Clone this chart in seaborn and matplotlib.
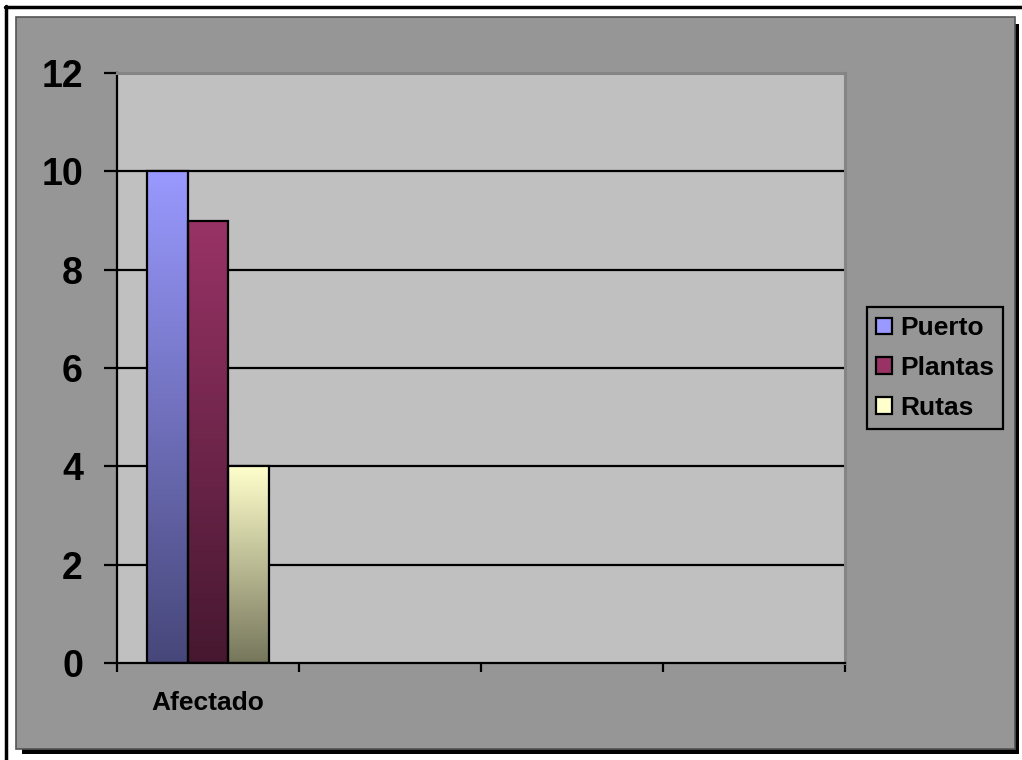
import numpy as np
import pandas as pd
import matplotlib
matplotlib.use("Agg")
import matplotlib.pyplot as plt
import matplotlib.colors as mcolors
from matplotlib.patches import Rectangle, Patch
from matplotlib.lines import Line2D
import seaborn as sns

# ---- data ----
category_slots = ["Afectado", " ", "  ", "   "]
categories = ["Afectado", "Afectado", "Afectado"]
series = ["Puerto", "Plantas", "Rutas"]
values = [10, 9, 4]
top_colors = ["#9999FF", "#993366", "#FFFFCC"]
bottom_colors = ["#47477A", "#461830", "#76765C"]
yticks = [0, 2, 4, 6, 8, 10, 12]

sns.set_theme(style="white")
plt.rcParams["font.family"] = ["Liberation Sans", "DejaVu Sans"]
plt.rcParams["font.weight"] = "bold"
plt.rcParams["text.color"] = "black"
plt.rcParams["xtick.color"] = "black"
plt.rcParams["ytick.color"] = "black"

W, H = 1022, 760
fig = plt.figure(figsize=(W / 100, H / 100), dpi=100)
fig.patch.set_facecolor("white")

def fx(px):
    return px / W

def fy(py):
    return 1 - py / H

# outer frame lines (top and left)
fig.add_artist(Line2D([fx(5), fx(1022)], [fy(6.5), fy(6.5)], color="black", lw=2.5,
                      transform=fig.transFigure, zorder=-3))
fig.add_artist(Line2D([fx(5.5), fx(5.5)], [fy(6), fy(760)], color="black", lw=2.5,
                      transform=fig.transFigure, zorder=-3))

# gray panel with shadow
fig.add_artist(Rectangle((fx(22), fy(754)), fx(1019) - fx(22), fy(24) - fy(754),
                         transform=fig.transFigure, facecolor="black", edgecolor="none", zorder=-2))
fig.add_artist(Rectangle((fx(16), fy(749)), fx(1015) - fx(16), fy(17) - fy(749),
                         transform=fig.transFigure, facecolor="#969696", edgecolor="#555555",
                         lw=1.2, zorder=-1))

ax = fig.add_axes([fx(117), fy(663), fx(845) - fx(117), fy(73) - fy(663)])
ax.set_facecolor("#C0C0C0")

df = pd.DataFrame({"cat": categories, "series": series, "value": values})
sns.barplot(data=df, x="cat", y="value", hue="series", order=category_slots,
            hue_order=series, palette=top_colors, width=0.665, gap=0,
            edgecolor="black", linewidth=1.6, legend=False, ax=ax, zorder=3)

# gradient fills
for i, cont in enumerate(ax.containers):
    c_top = np.array(mcolors.to_rgb(top_colors[i]))
    c_bot = np.array(mcolors.to_rgb(bottom_colors[i]))
    for patch in cont:
        x0 = patch.get_x()
        w = patch.get_width()
        h = patch.get_height()
        t = np.linspace(0, 1, 256)[:, None, None]
        img = c_top[None, None, :] * (1 - t) + c_bot[None, None, :] * t
        im = ax.imshow(img, extent=[x0, x0 + w, 0, h], origin="upper",
                       aspect="auto", zorder=2.5, interpolation="bilinear")
        im.set_clip_path(patch)
        patch.set_facecolor("none")
        patch.set_zorder(3)

ax.set_aspect("auto")
ax.set_xlim(-0.5, len(category_slots) - 0.5)
ax.set_ylim(yticks[0], yticks[-1])

# gridlines
for yv in yticks[1:-1]:
    ax.axhline(yv, color="black", lw=1.6, zorder=1)

ax.set_yticks(yticks)
ax.set_yticklabels([str(v) for v in yticks], fontsize=27, fontweight="bold", color="black")
ax.tick_params(axis="y", which="major", direction="out", length=9.5, width=1.6,
               pad=15, color="black", left=True, labelcolor="black")

ax.set_xticks(range(len(category_slots)))
ax.set_xticklabels(category_slots, fontsize=19, fontweight="bold", color="black")
ax.set_xticks(np.arange(-0.5, len(category_slots), 1), minor=True)
ax.tick_params(axis="x", which="major", length=0, pad=20, labelcolor="black")
ax.tick_params(axis="x", which="minor", direction="out", length=6.5, width=1.6,
               color="black", bottom=True)

ax.set_xlabel("")
ax.set_ylabel("")

for side in ["left", "bottom"]:
    ax.spines[side].set_color("black")
    ax.spines[side].set_linewidth(1.6)
    ax.spines[side].set_visible(True)
for side in ["top", "right"]:
    ax.spines[side].set_color("#858585")
    ax.spines[side].set_linewidth(2.2)
    ax.spines[side].set_visible(True)

# legend
handles = [Patch(facecolor=c, edgecolor="black", linewidth=1.6) for c in top_colors]
leg = fig.legend(handles, series, loc="upper left",
                 bbox_to_anchor=(fx(867), fy(307)), bbox_transform=fig.transFigure,
                 borderaxespad=0, prop={"weight": "bold", "size": 19},
                 frameon=True, fancybox=False, edgecolor="black", facecolor="#969696",
                 framealpha=1, handlelength=0.6, handleheight=0.6, handletextpad=0.3,
                 labelspacing=0.6, borderpad=0.35, labelcolor="black")
leg.get_frame().set_linewidth(1.6)

fig.savefig("out.png", dpi=100)
